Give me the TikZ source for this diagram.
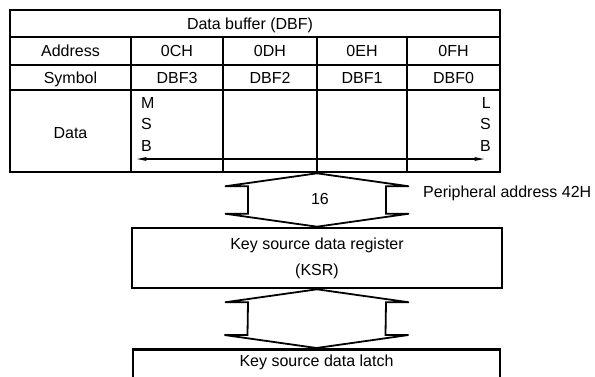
\documentclass[tikz,border=0pt]{standalone}
\usepackage{fontspec}
\setmainfont{Liberation Sans}
\usetikzlibrary{arrows.meta,positioning,calc}

% double headed bus arrow from top tip #1 to bottom tip #2
\newcommand{\busArrow}[2]{%
  \draw[busLine] (#1) -- ++(92,13) -- ++(-23,0) -- ($(#2)+(69,-13)$)
    -- ++(23,0) -- (#2) -- ++(-92,-13) -- ++(23,0)
    -- ($(#1)+(-69,13)$) -- ++(-23,0) -- cycle;}

\begin{document}
\begin{tikzpicture}[
      x=1pt,y=-1pt,
      every node/.style={font=\fontsize{16}{20}\selectfont},
      cellText/.style={inner sep=0pt,text height=11pt,text depth=0pt},
      regBox/.style={draw,line width=2.6pt,minimum width=370pt,align=center},
      gridLine/.style={line width=1.1pt},
      busLine/.style={line width=1.8pt,line join=miter},
      arData/.style={{Stealth[length=10pt,width=4pt]}-{Stealth[length=10pt,width=4pt]},line width=1.2pt}
    ]
    \useasboundingbox (0,0) rectangle (595,376);

    % Data buffer table
    \node(dbf)[draw,line width=2.6pt,minimum width=490pt,minimum height=162pt] at (255,91) {};
    \foreach \y in {37,65,90}
      \draw[gridLine] (10,\y) -- (500,\y);
    \foreach \x in {131,223,317,407}
      \draw[gridLine] (\x,37) -- (\x,172);

    \node(head)[cellText] at (250,23.5) {Data buffer (DBF)};
    \node(addr)[cellText] at (70.5,51) {Address};
    \node(sym)[cellText] at (70.5,77.5) {Symbol};
    \node(dat)[cellText] at (70.5,133) {Data};
    \foreach \x/\a/\s in {177/0CH/DBF3,270/0DH/DBF2,362/0EH/DBF1,453.5/0FH/DBF0}{
      \node(a\s)[cellText] at (\x,51) {\a};
      \node(s\s)[cellText] at (\x,77.5) {\s};
    }

    % MSB / LSB markers
    \node(msb)[anchor=north west,inner sep=0pt,align=left,
               font=\fontsize{16}{21.5}\selectfont] at (141,97) {M\\S\\B};
    \node(lsb)[anchor=north east,inner sep=0pt,align=right,
               font=\fontsize{16}{21.5}\selectfont] at (491,97) {L\\S\\B};
    \coordinate(dl) at (137,159);
    \coordinate(dr) at (484,159);
    \draw[arData] (dl) -- (dr);

    % Key source data register
    \node(ksr)[regBox,minimum height=60pt] at (317,258)
      {Key source data register\\[6pt](KSR)};

    % Key source data latch
    \node(latch)[regBox,minimum width=367pt,anchor=north,inner sep=6pt,
                 text height=11pt,text depth=30pt] at (316.5,348)
      {Key source data latch};

    % Bus arrows
    \busArrow{dbf.south -| ksr.north}{ksr.north}
    \busArrow{ksr.south}{latch.north}
    \node(bw)[cellText] at (320,199) {16};
    \node(pa)[cellText,anchor=west] at (423,192) {Peripheral address 42H};
  \end{tikzpicture}
\end{document}
